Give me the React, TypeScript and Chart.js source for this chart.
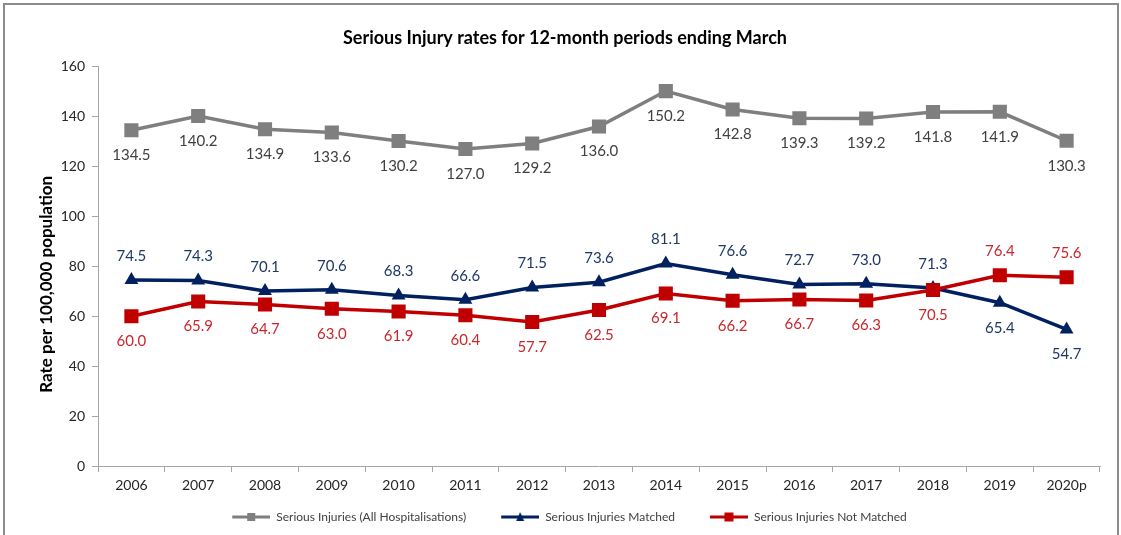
import React, { useEffect, useRef } from "react";
import { Chart, registerables } from "chart.js";

Chart.register(...registerables);

const categories = ["2006", "2007", "2008", "2009", "2010", "2011", "2012", "2013", "2014", "2015", "2016", "2017", "2018", "2019", "2020p"];
const allHospitalisations = [134.5, 140.2, 134.9, 133.6, 130.2, 127.0, 129.2, 136.0, 150.2, 142.8, 139.3, 139.2, 141.8, 141.9, 130.3];
const matched = [74.5, 74.3, 70.1, 70.6, 68.3, 66.6, 71.5, 73.6, 81.1, 76.6, 72.7, 73.0, 71.3, 65.4, 54.7];
const notMatched = [60.0, 65.9, 64.7, 63.0, 61.9, 60.4, 57.7, 62.5, 69.1, 66.2, 66.7, 66.3, 70.5, 76.4, 75.6];
const yTicks = [0, 20, 40, 60, 80, 100, 120, 140, 160];
const yTitle = "Rate per 100,000 population";

const allLabelPos = categories.map(() => "below");
const matchedLabelPos = categories.map((_, i) => (i >= 13 ? "below" : "above"));
const notMatchedLabelPos = categories.map((_, i) => (i >= 13 ? "above" : "below"));

const FONT = "Lato";
const GRAY = "#7F7F7F";
const NAVY = "#002060";
const RED = "#C00000";
const ICON_GAP = 25;
const ICON_LINE = 38;

function makeLegendIcon(color: string, marker: "rect" | "triangle", size: number) {
  const c = document.createElement("canvas");
  c.width = ICON_GAP + ICON_LINE;
  c.height = 12;
  const ctx = c.getContext("2d")!;
  const x0 = ICON_GAP;
  const cx = x0 + ICON_LINE / 2;
  ctx.strokeStyle = color;
  ctx.lineWidth = 3;
  ctx.beginPath();
  ctx.moveTo(x0, 6);
  ctx.lineTo(x0 + ICON_LINE, 6);
  ctx.stroke();
  ctx.fillStyle = color;
  if (marker === "rect") {
    ctx.fillRect(cx - size / 2, 6 - size / 2, size, size);
  } else {
    ctx.beginPath();
    ctx.moveTo(cx, 6 - size / 2 - 1);
    ctx.lineTo(cx + size / 2, 6 + size / 2);
    ctx.lineTo(cx - size / 2, 6 + size / 2);
    ctx.closePath();
    ctx.fill();
  }
  return c;
}

const dataLabelPlugin = {
  id: "dataLabels",
  afterDatasetsDraw(chart: any) {
    const ctx = chart.ctx;
    ctx.save();
    ctx.font = `15px ${FONT}`;
    ctx.textAlign = "center";
    ctx.textBaseline = "middle";
    chart.data.datasets.forEach((ds: any, di: number) => {
      const meta = chart.getDatasetMeta(di);
      ctx.fillStyle = ds.labelColor;
      meta.data.forEach((pt: any, i: number) => {
        const v = ds.data[i];
        const pos = ds.labelPos[i];
        const dy = pos === "above" ? -24 : 25;
        ctx.fillText(v.toFixed(1), pt.x, pt.y + dy);
      });
    });
    ctx.restore();
  },
};

const yTitlePlugin = {
  id: "yTitle",
  afterDraw(chart: any) {
    const ctx = chart.ctx;
    const area = chart.chartArea;
    ctx.save();
    ctx.font = `bold 17px ${FONT}`;
    ctx.fillStyle = "#000";
    ctx.textAlign = "center";
    ctx.textBaseline = "middle";
    ctx.translate(47, (area.top + area.bottom) / 2 + 18);
    ctx.rotate(-Math.PI / 2);
    ctx.fillText(yTitle, 0, 0);
    ctx.restore();
  },
};

const legendShiftPlugin = {
  id: "legendShift",
  afterLayout(chart: any) {
    const lg = chart.legend;
    if (lg) {
      lg.left -= 8;
      lg.right -= 8;
    }
  },
};

export default function App() {
  const ref = useRef<HTMLCanvasElement>(null);
  useEffect(() => {
    const icons = [
      makeLegendIcon(GRAY, "rect", 8),
      makeLegendIcon(NAVY, "triangle", 8),
      makeLegendIcon(RED, "rect", 9),
    ];
    const chart = new Chart(ref.current!, {
      type: "line",
      data: {
        labels: categories,
        datasets: [
          {
            label: "Serious Injuries (All Hospitalisations)",
            data: allHospitalisations,
            borderColor: GRAY,
            backgroundColor: GRAY,
            borderWidth: 3.5,
            pointStyle: "rect",
            pointRadius: 10,
            pointBorderWidth: 0,
            pointHoverRadius: 10,
            tension: 0,
            order: 2,
            labelColor: "#404040",
            labelPos: allLabelPos,
          } as any,
          {
            label: "Serious Injuries Matched",
            data: matched,
            borderColor: NAVY,
            backgroundColor: NAVY,
            borderWidth: 3.5,
            pointStyle: "triangle",
            pointRadius: 8,
            pointBorderWidth: 0,
            pointHoverRadius: 8,
            tension: 0,
            order: 1,
            labelColor: "#1F3864",
            labelPos: matchedLabelPos,
          } as any,
          {
            label: "Serious Injuries Not Matched",
            data: notMatched,
            borderColor: RED,
            backgroundColor: RED,
            borderWidth: 3.5,
            pointStyle: "rect",
            pointRadius: 10,
            pointBorderWidth: 0,
            pointHoverRadius: 10,
            tension: 0,
            order: 0,
            labelColor: "#C8282D",
            labelPos: notMatchedLabelPos,
          } as any,
        ],
      },
      options: {
        animation: false,
        responsive: false,
        maintainAspectRatio: false,
        layout: { padding: { left: 30, right: 21, top: 0, bottom: 2 } },
        plugins: {
          title: {
            display: true,
            text: "Serious Injury rates for 12-month periods ending March",
            font: { family: FONT, size: 18, weight: "bold" },
            color: "#000",
            padding: { top: 27, bottom: 18 },
          },
          legend: {
            position: "bottom",
            labels: {
              font: { family: FONT, size: 12 },
              color: "#404040",
              usePointStyle: true,
              pointStyleWidth: ICON_GAP + ICON_LINE,
              padding: 10,
              generateLabels: (chart: any) =>
                chart.data.datasets.map((ds: any, i: number) => ({
                  text: ds.label,
                  pointStyle: icons[i],
                  fillStyle: ds.borderColor,
                  strokeStyle: ds.borderColor,
                  lineWidth: 0,
                  hidden: false,
                  datasetIndex: i,
                  fontColor: "#404040",
                })),
            },
          },
          tooltip: { enabled: false },
        },
        scales: {
          x: {
            offset: true,
            afterFit: (s: any) => {
              s.height = 35;
            },
            grid: {
              offset: true,
              drawOnChartArea: false,
              drawTicks: true,
              tickLength: 6,
              color: "#A6A6A6",
            },
            border: { color: "#A6A6A6", width: 1 },
            ticks: { font: { family: FONT, size: 14 }, color: "#262626", padding: 5, maxRotation: 0, autoSkip: false },
          },
          y: {
            min: 0,
            max: 160,
            afterBuildTicks: (s: any) => {
              s.ticks = yTicks.map((v) => ({ value: v }));
            },
            afterFit: (s: any) => {
              s.width = 68;
            },
            grid: {
              drawOnChartArea: false,
              drawTicks: true,
              tickLength: 6,
              color: "#A6A6A6",
            },
            border: { color: "#A6A6A6", width: 1 },
            ticks: { font: { family: FONT, size: 14 }, color: "#262626", padding: 7 },
          },
        },
      },
      plugins: [dataLabelPlugin, yTitlePlugin, legendShiftPlugin],
    });
    return () => chart.destroy();
  }, []);

  return (
    <div style={{ position: "fixed", left: 0, top: 0, width: 1121, height: 535, background: "#fff", overflow: "hidden" }}>
      <div
        style={{
          position: "absolute",
          left: 3,
          top: 3,
          width: 1112,
          height: 600,
          border: "2px solid #8C8C8C",
        }}
      />
      <canvas ref={ref} width={1121} height={535} style={{ position: "absolute", left: 0, top: 0 }} />
    </div>
  );
}
